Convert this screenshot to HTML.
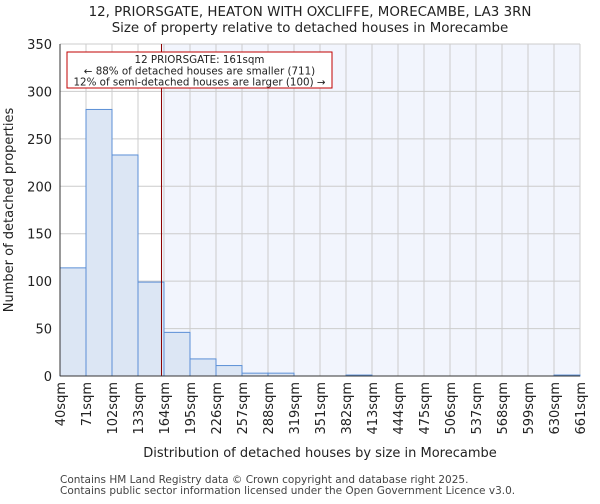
<!DOCTYPE html>
<html><head><meta charset="utf-8"><style>
body{margin:0;background:#fff;font-family:"DejaVu Sans","Liberation Sans",sans-serif}
</style></head><body>
<svg id="c" width="600" height="500" xmlns="http://www.w3.org/2000/svg" font-family="DejaVu Sans, Liberation Sans, sans-serif"></svg>
<script>
const categories=["40sqm","71sqm","102sqm","133sqm","164sqm","195sqm","226sqm","257sqm","288sqm","319sqm","351sqm","382sqm","413sqm","444sqm","475sqm","506sqm","537sqm","568sqm","599sqm","630sqm","661sqm"];
const binStarts=[40,71,102,133,164,195,226,257,288,319,351,382,413,444,475,506,537,568,599,630,661];
const counts=[114,281,233,99,46,18,11,3,3,0,0,1,0,0,0,0,0,0,0,1];
const yTicks=[0,50,100,150,200,250,300,350];
const marker=161;
const NS="http://www.w3.org/2000/svg";
const svg=document.getElementById('c');
const L=60,R=580,T=44,B=376,yMax=350;
const nb=counts.length, bw=(R-L)/nb;
function x(v){
  for(let i=0;i<nb;i++){if(v<=binStarts[i+1]) return L+i*bw+(v-binStarts[i])/(binStarts[i+1]-binStarts[i])*bw;}
  return R;}
function xi(i){return L+i*bw;}
function y(v){return B-v/yMax*(B-T);}
function el(t,a,p){const e=document.createElementNS(NS,t);for(const k in a)e.setAttribute(k,a[k]);(p||svg).appendChild(e);return e;}
const mx=x(marker);
let bg=el('rect',{x:mx,y:T,width:R-mx,height:B-T,fill:'#f2f5fd'});


for(let i=0;i<=nb;i++){let g=el('line',{x1:xi(i),x2:xi(i),y1:T,y2:B,stroke:'#cccccc','stroke-width':1});

}
yTicks.forEach(t=>{let g=el('line',{x1:L,x2:R,y1:y(t),y2:y(t),stroke:'#cccccc','stroke-width':1});


let tx=el('text',{x:L-8,y:y(t)+5,'text-anchor':'end','font-size':13,fill:'#222'});tx.textContent=t;

});
counts.forEach((c,i)=>{if(c<=0)return;let r=el('rect',{x:xi(i),y:y(c),width:bw,height:B-y(c),fill:'#dce6f4',stroke:'#5b8fd6','stroke-width':1});

});
let ml=el('line',{x1:mx,x2:mx,y1:T,y2:B,stroke:'#8b0000','stroke-width':1});


el('line',{x1:L,x2:L,y1:T,y2:B,stroke:'#333'});el('line',{x1:L,x2:R,y1:B,y2:B,stroke:'#333'});
categories.forEach((c,i)=>{let tx=el('text',{transform:`translate(${xi(i)+5},${B+6}) rotate(-90)`,'text-anchor':'end','font-size':13,fill:'#222'});tx.textContent=c;

});
let box=el('rect',{x:67,y:52,width:265,height:36,fill:'#fff',stroke:'#c00000','stroke-width':1});


["12 PRIORSGATE: 161sqm","← 88% of detached houses are smaller (711)","12% of semi-detached houses are larger (100) →"].forEach((s,i)=>{let t=el('text',{x:199.5,y:63+i*11.3,'text-anchor':'middle','font-size':10.3,fill:'#222'});t.textContent=s;

});
function txt(s,a,n){let t=el('text',a);t.textContent=s;}
txt("12, PRIORSGATE, HEATON WITH OXCLIFFE, MORECAMBE, LA3 3RN",{x:310,y:16,'text-anchor':'middle','font-size':13.4,fill:'#222'},'chart-title');
txt("Size of property relative to detached houses in Morecambe",{x:310,y:32,'text-anchor':'middle','font-size':13.4,fill:'#222'},'chart-subtitle');
txt("Distribution of detached houses by size in Morecambe",{x:320,y:457,'text-anchor':'middle','font-size':13,fill:'#222'},'x-axis-title');
txt("Number of detached properties",{transform:'translate(13,210) rotate(-90)','text-anchor':'middle','font-size':13,fill:'#222'},'y-axis-title');
txt("Contains HM Land Registry data © Crown copyright and database right 2025.",{x:60,y:483,'font-size':10.5,fill:'#444'},'footer-line-1');
txt("Contains public sector information licensed under the Open Government Licence v3.0.",{x:60,y:494,'font-size':10.5,fill:'#444'},'footer-line-2');
</script>
</body></html>
